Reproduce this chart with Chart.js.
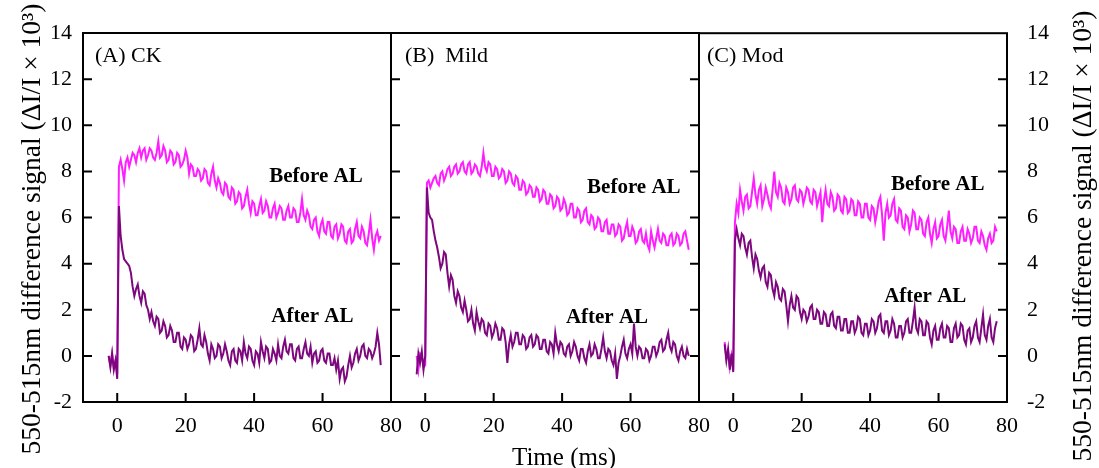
<!DOCTYPE html>
<html>
<head>
<meta charset="utf-8">
<script src="https://cdn.jsdelivr.net/npm/chart.js@4.4.1/dist/chart.umd.min.js"></script>
<style>
  body { margin: 0; background: #fff; }
  #wrap { position: relative; width: 1099px; height: 468px; }
  #wrap canvas { position: absolute; left: 0; top: 0; }
</style>
</head>
<body>
<div id="wrap">
  <canvas id="ckChart" width="1099" height="468"></canvas>
  <canvas id="mildChart" width="1099" height="468"></canvas>
  <canvas id="modChart" width="1099" height="468"></canvas>
</div>
<script>
// --- Datos (paso de 0.5 ms) ---
const time = [-2.5, -2, -1.5, -1, -0.5, 0, 0.5,
  1, 1.5, 2, 2.5, 3, 3.5, 4, 4.5, 5, 5.5, 6, 6.5, 7, 7.5, 8, 8.5, 9, 9.5, 10, 10.5,
  11, 11.5, 12, 12.5, 13, 13.5, 14, 14.5, 15, 15.5, 16, 16.5, 17, 17.5, 18, 18.5, 19, 19.5, 20, 20.5,
  21, 21.5, 22, 22.5, 23, 23.5, 24, 24.5, 25, 25.5, 26, 26.5, 27, 27.5, 28, 28.5, 29, 29.5, 30, 30.5,
  31, 31.5, 32, 32.5, 33, 33.5, 34, 34.5, 35, 35.5, 36, 36.5, 37, 37.5, 38, 38.5, 39, 39.5, 40, 40.5,
  41, 41.5, 42, 42.5, 43, 43.5, 44, 44.5, 45, 45.5, 46, 46.5, 47, 47.5, 48, 48.5, 49, 49.5, 50, 50.5,
  51, 51.5, 52, 52.5, 53, 53.5, 54, 54.5, 55, 55.5, 56, 56.5, 57, 57.5, 58, 58.5, 59, 59.5, 60, 60.5,
  61, 61.5, 62, 62.5, 63, 63.5, 64, 64.5, 65, 65.5, 66, 66.5, 67, 67.5, 68, 68.5, 69, 69.5, 70, 70.5,
  71, 71.5, 72, 72.5, 73, 73.5, 74, 74.5, 75, 75.5, 76, 76.5, 77];

const xTicks = [0, 20, 40, 60, 80];
const yTicks = [-2, 0, 2, 4, 6, 8, 10, 12, 14];

// (A) CK
const ckBefore = [0.0, -0.4, 0.1, -0.5, -0.2, -0.8, 8.2,
  8.5, 8.1, 7.6, 8.4, 8.6, 8.2, 8.5, 8.8, 8.7, 8.4,
  8.8, 9.0, 8.6, 8.9, 9.0, 8.5, 8.7, 9.0, 8.9, 8.6,
  8.5, 8.8, 9.3, 8.6, 8.7, 9.1, 8.9, 8.4, 8.5, 8.9,
  8.8, 8.3, 8.4, 8.8, 8.7, 8.2, 8.3, 8.5, 8.9, 8.6,
  7.9, 8.3, 8.2, 7.8, 7.8, 8.1, 8.0, 7.6, 7.7, 8.1,
  8.0, 7.5, 7.4, 7.9, 8.2, 7.6, 7.3, 7.7, 7.5, 7.1,
  7.0, 7.5, 7.4, 6.9, 6.8, 7.3, 7.2, 6.6, 6.7, 7.1,
  7.0, 6.4, 6.5, 6.9, 7.2, 6.6, 6.2, 6.7, 6.6, 6.1,
  6.1, 6.5, 6.8, 6.2, 6.3, 6.7, 6.5, 6.0, 6.0, 6.4,
  6.6, 6.0, 6.2, 6.5, 6.4, 5.9, 5.9, 6.3, 6.5, 6.0,
  6.0, 6.4, 6.3, 5.8, 5.8, 6.2, 6.8, 6.1, 5.9, 6.3,
  6.1, 5.6, 5.5, 5.9, 6.0, 5.4, 5.2, 5.7, 5.9, 5.4,
  5.3, 5.8, 5.8, 5.2, 5.1, 5.6, 5.7, 5.1, 5.3, 5.7,
  5.6, 5.0, 4.9, 5.4, 5.5, 4.9, 5.0, 5.5, 5.8, 5.2,
  5.1, 5.6, 5.4, 4.9, 4.8, 5.3, 5.9, 5.1, 4.6, 5.2,
  5.4, 5.0, 5.2];
const ckAfter = [0.0, -0.5, 0.1, -0.6, -0.2, -1.0, 6.5,
  5.2, 4.6, 4.2, 4.1, 4.0, 3.9, 3.6, 3.0, 2.6, 2.9,
  3.1, 2.6, 2.3, 2.8, 2.7, 2.2, 2.0, 1.6, 1.9, 1.5,
  1.3, 1.7, 1.6, 1.0, 1.1, 1.5, 1.3, 0.8, 0.9, 1.3,
  1.1, 0.6, 0.6, 1.0, 1.0, 0.4, 0.3, 0.8, 0.7, 0.3,
  0.5, 0.9, 0.8, 0.2, 0.3, 0.7, 1.2, 0.5, 0.4, 0.9,
  0.6, 0.1, -0.2, 0.5, 0.3, -0.1, 0.0, 0.5, 0.4, -0.1,
  0.1, 0.5, 0.2, -0.2, -0.4, 0.2, 0.3, -0.2, -0.3, 0.3,
  0.2, -0.2, 0.6, 0.1, -0.1, 0.4, 0.3, -0.2, -0.4, 0.2,
  0.1, -0.3, 0.6, 0.2, -0.1, 0.4, 0.3, -0.3, -0.2, 0.3,
  0.1, -0.2, 0.5, 0.0, -0.1, 0.4, 0.7, 0.2, 0.1, 0.5,
  0.5, -0.1, -0.2, 0.3, 0.4, -0.1, -0.1, 0.3, 0.6, 0.1,
  0.0, 0.4, -0.3, 0.1, 0.2, -0.3, -0.2, 0.2, 0.3, -0.2,
  -0.3, 0.1, 0.1, -0.4, -0.4, -0.1, -0.6, -0.2, -1.0, -0.6,
  -0.5, -1.1, -0.9, -0.4, 0.0, -0.5, -0.3, 0.1, 0.3, -0.2,
  0.0, 0.4, 0.5, 0.0, -0.1, 0.3, 0.2, -0.1, 0.1, 0.4,
  1.0, 0.5, -0.4];

// (B) Mild
const mildBefore = [0.0, -0.6, 0.1, 0.0, -0.5, -0.4, 7.5,
  7.6, 7.3, 7.5, 7.7, 7.8, 7.5, 7.4, 7.9, 8.0, 7.6,
  7.8, 8.1, 8.2, 7.8, 7.9, 8.2, 8.3, 7.9, 8.0, 8.3,
  8.4, 8.0, 7.9, 8.3, 8.4, 7.9, 8.0, 8.3, 8.2, 7.9,
  7.8, 8.2, 8.8, 8.2, 8.0, 8.4, 8.3, 7.8, 7.8, 8.2,
  8.1, 7.7, 7.8, 8.1, 8.0, 7.5, 7.6, 8.0, 7.9, 7.5,
  7.4, 7.8, 7.7, 7.2, 7.2, 7.6, 7.5, 7.0, 7.1, 7.4,
  7.3, 6.9, 6.9, 7.3, 7.2, 6.7, 6.8, 7.2, 7.1, 6.6,
  6.6, 7.0, 6.9, 6.4, 6.5, 6.9, 6.8, 6.3, 6.4, 6.8,
  6.6, 6.1, 6.2, 6.6, 6.6, 6.0, 6.0, 6.4, 6.3, 5.8,
  5.9, 6.3, 6.4, 5.8, 5.7, 6.1, 6.0, 5.5, 5.6, 6.0,
  5.9, 5.4, 5.4, 5.8, 5.9, 5.3, 5.3, 5.7, 5.7, 5.2,
  5.3, 5.7, 5.6, 5.0, 5.1, 5.5, 5.8, 5.2, 5.2, 5.6,
  5.4, 4.9, 5.0, 5.4, 5.5, 5.0, 4.9, 5.3, 4.8, 4.6,
  5.4, 5.0, 4.7, 5.1, 5.5, 5.0, 4.9, 5.3, 5.2, 4.8,
  4.8, 5.2, 5.3, 4.8, 4.9, 5.3, 5.2, 4.8, 4.9, 5.3,
  5.4, 5.0, 4.6];
const mildAfter = [-0.8, 0.1, -0.3, 0.2, -0.6, 0.0, 7.3,
  6.2, 6.0, 5.9, 5.4, 5.0, 4.7, 4.3, 3.8, 4.0, 4.5,
  4.4, 3.6, 3.0, 3.5, 3.3, 2.6, 2.3, 2.8, 2.6, 2.1,
  1.9, 2.4, 2.0, 1.5, 1.6, 2.0, 1.4, 1.1, 1.9, 1.5,
  1.2, 1.6, 1.5, 1.0, 0.9, 1.4, 1.3, 0.8, 1.0, 1.4,
  1.2, 0.7, 0.7, 1.2, 1.1, 0.6, -0.3, 0.5, 0.9, 0.4,
  0.6, 1.0, 1.0, 0.5, 0.5, 0.9, 0.8, 0.3, 0.4, 0.8,
  0.9, 0.4, 0.5, 0.9, 0.8, 0.3, 0.3, 0.7, 0.7, 0.2,
  0.1, 0.6, 0.5, 0.1, 1.0, 0.5, 0.2, 0.6, 0.5, 0.1,
  0.0, 0.4, 0.5, 0.0, 0.2, 0.6, 0.4, 0.0, -0.2, 0.3,
  0.3, -0.1, -0.3, 0.2, 0.5, 0.0, 0.1, 0.5, 0.3, -0.1,
  -0.1, 0.3, 0.8, 0.2, -0.1, 0.3, 0.2, -0.2, -0.4, 0.1,
  -1.0, -0.3, 0.0, 0.4, 0.7, 0.1, -0.1, 0.3, 0.5, 0.1,
  1.4, 0.4, 0.0, 0.4, 0.3, -0.1, -0.1, 0.3, 0.2, -0.2,
  0.0, 0.4, 0.4, 0.0, 0.2, 0.6, 0.7, 0.2, 0.3, 0.7,
  1.0, 0.4, 0.2, 0.6, 0.5, 0.0, -0.2, 0.2, 0.4, 0.0,
  -0.1, 0.3, 0.0];

// (C) Mod
const modBefore = [0.6, -0.1, 0.2, -0.5, 0.0, -0.6, 5.8,
  6.6, 6.2, 7.2, 6.7, 6.3, 6.9, 7.0, 6.4, 6.5, 7.1,
  7.7, 7.0, 6.6, 7.2, 7.4, 6.5, 6.8, 7.3, 7.0, 6.6,
  6.4, 7.2, 8.0, 7.1, 6.9, 7.5, 7.3, 6.7, 6.6, 7.3,
  7.1, 6.6, 6.8, 7.3, 7.4, 6.8, 6.7, 7.2, 7.1, 6.6,
  6.9, 7.3, 7.2, 6.7, 6.6, 7.2, 7.1, 6.5, 6.8, 7.1,
  5.8, 6.7, 7.2, 6.6, 6.5, 7.1, 6.9, 6.3, 6.4, 7.0,
  6.9, 6.3, 6.2, 6.9, 6.8, 6.2, 6.3, 6.8, 6.7, 6.1,
  6.1, 6.7, 6.6, 6.0, 6.0, 6.6, 6.6, 6.0, 5.9, 6.5,
  6.4, 5.8, 6.2, 6.7, 6.9, 6.1, 5.0, 6.2, 6.6, 6.0,
  6.1, 6.6, 6.8, 5.9, 5.8, 6.4, 6.3, 5.6, 5.5, 6.1,
  6.0, 5.4, 5.7, 6.3, 6.2, 5.5, 5.5, 6.0, 5.9, 5.3,
  5.2, 5.8, 6.0, 5.3, 4.9, 5.5, 5.8, 5.1, 5.2, 5.7,
  5.9, 5.2, 5.0, 5.6, 6.3, 5.4, 5.1, 5.6, 5.5, 4.9,
  4.9, 5.4, 5.6, 5.0, 5.0, 5.5, 5.3, 4.9, 5.1, 5.6,
  5.6, 5.0, 4.9, 5.4, 5.2, 4.8, 4.6, 5.1, 5.3, 4.9,
  5.0, 5.6, 5.4];
const modAfter = [0.5, -0.2, 0.3, -0.6, 0.1, -0.7, 5.0,
  5.5, 5.1, 4.8, 5.3, 5.2, 4.7, 4.4, 4.9, 5.0, 4.3,
  3.8, 4.4, 4.2, 3.7, 3.4, 3.8, 3.9, 3.2, 3.0, 3.6,
  3.5, 2.9, 2.6, 3.2, 3.0, 2.5, 2.4, 2.9, 2.8, 2.2,
  1.5, 2.2, 2.6, 2.1, 2.0, 2.6, 2.5, 1.9, 1.6, 2.0,
  1.9, 1.5, 1.7, 2.1, 2.2, 1.6, 1.6, 2.0, 1.9, 1.4,
  1.4, 1.9, 1.8, 1.3, 1.3, 1.8, 1.9, 1.3, 1.2, 1.7,
  1.7, 1.1, 1.1, 1.6, 1.6, 1.0, 1.0, 1.5, 1.5, 1.0,
  1.2, 1.7, 1.6, 1.0, 0.9, 1.4, 1.4, 0.9, 1.1, 1.6,
  1.5, 1.0, 1.2, 1.7, 1.8, 1.1, 1.0, 1.5, 1.5, 0.9,
  1.1, 1.6, 1.4, 0.8, 0.8, 1.3, 1.3, 0.8, 1.0, 1.5,
  1.6, 1.0, 1.0, 1.5, 2.1, 1.2, 1.0, 1.6, 1.5, 0.9,
  0.9, 1.5, 1.4, 0.8, 0.5, 1.1, 1.3, 0.7, 0.7, 1.2,
  1.4, 0.8, 0.8, 1.3, 1.2, 0.6, 0.6, 1.2, 1.4, 0.8,
  0.9, 1.4, 1.3, 0.7, 0.5, 1.1, 1.2, 0.6, 0.8, 1.3,
  1.5, 0.8, 0.6, 1.2, 1.8, 0.9, 0.7, 1.3, 1.6, 0.8,
  0.6, 1.2, 1.5];

const MAGENTA = '#ff1eff';
const PURPLE = '#7d077d';
const SERIF = '"Liberation Serif", "Times New Roman", serif';
const Y_TITLE = '550-515nm difference signal (\u0394I/I \u00d7 10\u00b3)';

Chart.defaults.font.family = SERIF;
Chart.defaults.color = '#000';

// Marco, marcas hacia dentro y textos de cada panel
const panelPlugin = {
    id: 'panel',
    afterDraw(chart, args, o) {
        const { ctx, chartArea: a } = chart;
        const xs = chart.scales.x, ys = chart.scales.y;
        ctx.save();
        ctx.strokeStyle = '#000';
        ctx.lineWidth = 2;
        ctx.strokeRect(a.left, a.top, a.right - a.left, a.bottom - a.top);
        ctx.beginPath();
        xTicks.forEach(v => {
            if (v <= xs.min || v >= xs.max) return;
            const px = xs.getPixelForValue(v);
            ctx.moveTo(px, a.bottom); ctx.lineTo(px, a.bottom - 9);
        });
        yTicks.forEach(v => {
            if (v <= ys.min || v >= ys.max) return;
            const py = ys.getPixelForValue(v);
            if (o.tickLeft) { ctx.moveTo(a.left, py); ctx.lineTo(a.left + 9, py); }
            if (o.tickRight) { ctx.moveTo(a.right, py); ctx.lineTo(a.right - 9, py); }
        });
        ctx.stroke();

        ctx.fillStyle = '#000';
        ctx.textAlign = 'left';
        ctx.textBaseline = 'alphabetic';
        ctx.font = '22px ' + SERIF;
        ctx.fillText(o.label, a.left + o.labelDx, a.top + 29);
        ctx.font = 'bold 21px ' + SERIF;
        o.notes.forEach(n => ctx.fillText(n.text, xs.getPixelForValue(n.x), ys.getPixelForValue(n.y)));

        if (o.titles) {
            ctx.textAlign = 'center';
            ctx.font = '27.5px ' + SERIF;
            [[40, 229], [1091, 236]].forEach(([tx, ty]) => {
                ctx.save();
                ctx.translate(tx, ty);
                ctx.rotate(-Math.PI / 2);
                ctx.fillText(Y_TITLE, 0, 0);
                ctx.restore();
            });
            ctx.font = '25px ' + SERIF;
            ctx.fillText('Time (ms)', 564, 465);
        }
        ctx.restore();
    }
};

const makePanel = (elementId, before, after, cfg) => {
    const ctx = document.getElementById(elementId);
    return new Chart(ctx, {
        type: 'line',
        data: {
            datasets: [
                { data: time.map((t, i) => ({ x: t, y: after[i] })), borderColor: PURPLE, borderWidth: 2, pointRadius: 0, tension: 0 },
                { data: time.map((t, i) => ({ x: t, y: before[i] })), borderColor: MAGENTA, borderWidth: 2, pointRadius: 0, tension: 0 }
            ]
        },
        options: {
            responsive: false, animation: false, devicePixelRatio: 1,
            layout: { padding: cfg.padding },
            plugins: { legend: { display: false }, tooltip: { enabled: false }, panel: cfg.panel },
            scales: {
                x: {
                    type: 'linear', min: -10, max: 80,
                    grid: { display: false, drawTicks: false }, border: { display: false },
                    ticks: { font: { size: 22 }, padding: 11, maxRotation: 0, autoSkip: false },
                    afterBuildTicks: s => { s.ticks = xTicks.map(v => ({ value: v })); },
                    afterFit: s => { s.height = 66; }
                },
                y: {
                    display: cfg.yPos !== 'none',
                    position: cfg.yPos === 'none' ? 'left' : cfg.yPos,
                    min: -2, max: 14,
                    grid: { display: false, drawTicks: false }, border: { display: false },
                    ticks: { font: { size: 22 }, padding: cfg.yPad },
                    afterBuildTicks: s => { s.ticks = yTicks.map(v => ({ value: v })); },
                    afterFit: s => { s.width = cfg.yWidth; }
                }
            }
        },
        plugins: [panelPlugin]
    });
};

makePanel('ckChart', ckBefore, ckAfter, {
    padding: { left: 0, right: 708, top: 33, bottom: 0 }, yPos: 'left', yWidth: 83, yPad: 11,
    panel: { label: '(A) CK', labelDx: 12, tickLeft: true, tickRight: false,
        notes: [{ text: 'Before AL', x: 44.4, y: 7.54 }, { text: 'After AL', x: 45.0, y: 1.47 }] }
});
makePanel('mildChart', mildBefore, mildAfter, {
    padding: { left: 391, right: 400, top: 33, bottom: 0 }, yPos: 'none', yWidth: 0, yPad: 0,
    panel: { label: '(B)  Mild', labelDx: 14, tickLeft: true, tickRight: true, titles: true,
        notes: [{ text: 'Before AL', x: 47.3, y: 7.06 }, { text: 'After AL', x: 41.1, y: 1.43 }] }
});
makePanel('modChart', modBefore, modAfter, {
    padding: { left: 699, right: 0, top: 33, bottom: 0 }, yPos: 'right', yWidth: 92, yPad: 20,
    panel: { label: '(C) Mod', labelDx: 8, tickLeft: false, tickRight: true,
        notes: [{ text: 'Before AL', x: 46.1, y: 7.19 }, { text: 'After AL', x: 44.1, y: 2.34 }] }
});
</script>
</body>
</html>
